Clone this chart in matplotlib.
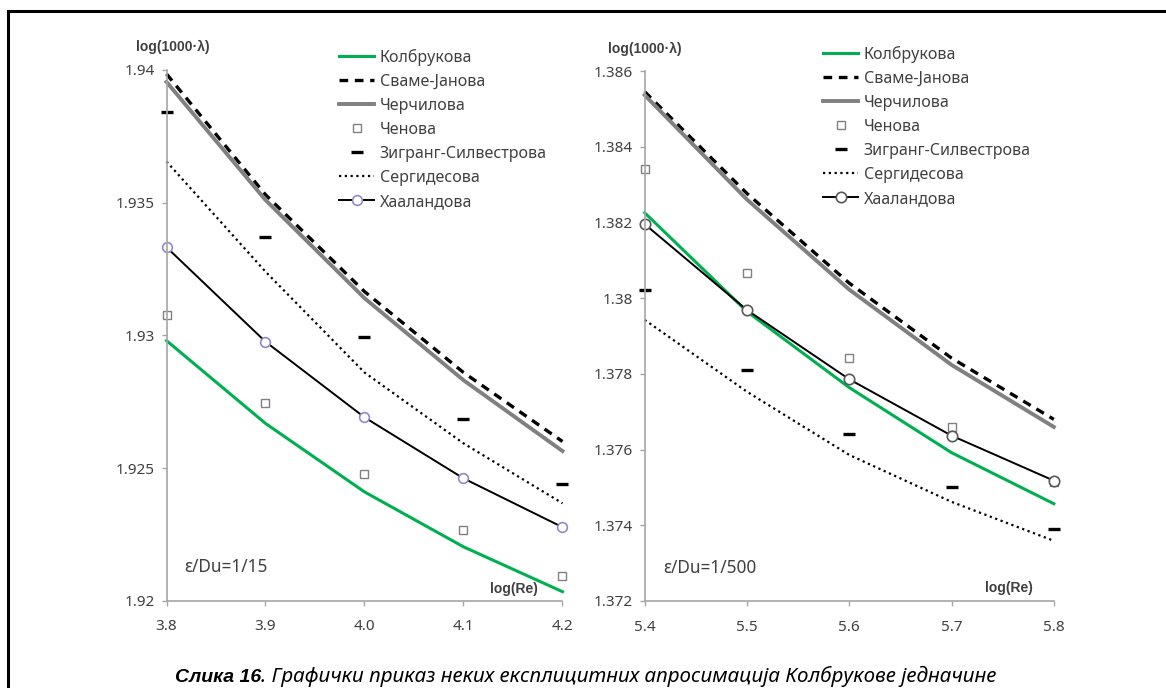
import matplotlib.pyplot as plt
from matplotlib.patches import Rectangle

plt.rcParams['font.family'] = ['Noto Sans', 'DejaVu Sans']

# log(Re) on the x axis
re_left = [3.8, 3.9, 4.0, 4.1, 4.2]
re_right = [5.4, 5.5, 5.6, 5.7, 5.8]

# eps/Du = 1/15
colebrook_l = [1.92980, 1.92668, 1.92410, 1.92203, 1.92034]
swamee_l = [1.93985, 1.93530, 1.93165, 1.92860, 1.92600]
churchill_l = [1.93955, 1.93510, 1.93140, 1.92831, 1.92564]
chen_l = [1.93075, 1.92744, 1.92478, 1.92267, 1.92094]
zigrang_l = [1.93842, 1.93369, 1.92993, 1.92684, 1.92440]
sergides_l = [1.93655, 1.93240, 1.92860, 1.92593, 1.92367]
haaland_l = [1.93332, 1.92976, 1.92691, 1.92461, 1.92277]

# eps/Du = 1/500
colebrook_r = [1.38226, 1.37965, 1.37764, 1.37592, 1.37457]
swamee_r = [1.38546, 1.38277, 1.38040, 1.37842, 1.37680]
churchill_r = [1.38537, 1.38261, 1.38023, 1.37824, 1.37660]
chen_r = [1.38341, 1.38066, 1.37841, 1.37660, 1.37515]
zigrang_r = [1.38022, 1.37811, 1.37641, 1.37502, 1.37391]
sergides_r = [1.37943, 1.37753, 1.37586, 1.37462, 1.37359]
haaland_r = [1.38196, 1.37969, 1.37786, 1.37637, 1.37518]

names = ['Колбрукова', 'Сваме-Јанова', 'Черчилова', 'Ченова',
         'Зигранг-Силвестрова', 'Сергидесова', 'Хааландова']

yticks_l = [1.92, 1.925, 1.93, 1.935, 1.94]
yticks_r = [1.372, 1.374, 1.376, 1.378, 1.38, 1.382, 1.384, 1.386]

green = '#00B050'
gray = '#808080'
axis_gray = '#A6A6A6'
txt = '#404040'
bold_font = ['Liberation Sans', 'DejaVu Sans']

fig = plt.figure(figsize=(11.66, 6.88), dpi=100)
ax1 = fig.add_axes([0.1428, 0.1269, 0.3396, 0.7714])
ax2 = fig.add_axes([0.5529, 0.1265, 0.3509, 0.7699])


def draw(ax, x, cb, sj, ch, chen, zg, sg, hl, circ_edge, circ_size):
    ax.plot(x, cb, color=green, lw=2.2, label=names[0], clip_on=False)
    ax.plot(x, sj, color='black', lw=2.4, dashes=(2.6, 2.0), label=names[1], clip_on=False)
    ax.plot(x, ch, color=gray, lw=2.8, label=names[2], clip_on=False)
    ax.plot(x, chen, ls='none', marker='s', ms=6, mfc='white', mec=gray, mew=1.0,
            label=names[3], clip_on=False)
    ax.plot(x, zg, ls='none', marker='_', ms=9, mew=2.4, color='black',
            label=names[4], clip_on=False)
    ax.plot(x, sg, color='black', lw=1.6, ls=(0, (1, 1.6)), label=names[5], clip_on=False)
    ax.plot(x, hl, color='black', lw=1.4, marker='o', ms=circ_size, mfc='white',
            mec=circ_edge, mew=1.2, label=names[6], clip_on=False)
    for s in ['top', 'right']:
        ax.spines[s].set_visible(False)
    for s in ['left', 'bottom']:
        ax.spines[s].set_color(axis_gray)
        ax.spines[s].set_linewidth(1.2)
    ax.tick_params(axis='both', direction='out', length=3.5, width=1.0,
                   color=axis_gray, labelcolor=txt, labelsize=11)
    ax.tick_params(axis='y', pad=5)
    ax.tick_params(axis='x', pad=10)
    ax.set_xlim(x[0], x[-1])
    ax.set_xticks(x)
    ax.set_xticklabels([f'{v:.1f}' for v in x])


draw(ax1, re_left, colebrook_l, swamee_l, churchill_l, chen_l, zigrang_l,
     sergides_l, haaland_l, '#9488C8', 7)
draw(ax2, re_right, colebrook_r, swamee_r, churchill_r, chen_r, zigrang_r,
     sergides_r, haaland_r, '#595959', 7.5)

ax1.set_ylim(yticks_l[0], yticks_l[-1])
ax1.set_yticks(yticks_l)
ax1.set_yticklabels([f'{v:g}' for v in yticks_l])
ax2.set_ylim(yticks_r[0], yticks_r[-1])
ax2.set_yticks(yticks_r)
ax2.set_yticklabels([f'{v:g}' for v in yticks_r])

W, H = 1166, 688
for ax, lx, ly in [(ax1, 339, 49), (ax2, 823, 46)]:
    ax.legend(loc='upper left', bbox_to_anchor=(lx / W, 1 - ly / H),
              bbox_transform=fig.transFigure, frameon=False, fontsize=11.5,
              labelspacing=0.5, handlelength=2.2, handletextpad=0.35,
              borderpad=0, borderaxespad=0, numpoints=1, labelcolor=txt)

# axis captions
fig.text(173 / W, 1 - 47 / H, 'log(1000·λ)', ha='center', va='center',
         fontsize=10, fontweight='bold', color=txt, family=bold_font)
fig.text(645 / W, 1 - 49 / H, 'log(1000·λ)', ha='center', va='center',
         fontsize=10, fontweight='bold', color=txt, family=bold_font)
fig.text(514 / W, 1 - 589 / H, 'log(Re)', ha='center', va='center',
         fontsize=10, fontweight='bold', color=txt, family=bold_font)
fig.text(1009 / W, 1 - 588 / H, 'log(Re)', ha='center', va='center',
         fontsize=10, fontweight='bold', color=txt, family=bold_font)
fig.text(226 / W, 1 - 567 / H, 'ε/Du=1/15', ha='center', va='center',
         fontsize=12.4, color=txt)
fig.text(710 / W, 1 - 568 / H, 'ε/Du=1/500', ha='center', va='center',
         fontsize=12.4, color=txt)

# page frame
fig.patches.append(Rectangle((8 / W, -0.2), 1.2, 1.2 - 11 / H,
                             transform=fig.transFigure, fill=False,
                             edgecolor='black', lw=2.2))

# figure caption (bold-italic number, italic text)
part1 = 'Слика 16'
part2 = '. Графички приказ неких експлицитних апросимација Колбрукове једначине'
cap_y = 1 - 682 / H
t1 = fig.text(0, cap_y, part1, ha='left', va='baseline', fontsize=14,
              fontstyle='italic', fontweight='bold', color='black', family=bold_font)
t2 = fig.text(0, cap_y, part2, ha='left', va='baseline', fontsize=14.8,
              fontstyle='italic', color='black')
fig.canvas.draw()
r = fig.canvas.get_renderer()
w1 = t1.get_window_extent(r).width / W
w2 = t2.get_window_extent(r).width / W
x0 = 0.502 - (w1 + w2) / 2
t1.set_x(x0)
t2.set_x(x0 + w1)

fig.savefig('out.png', dpi=100)
